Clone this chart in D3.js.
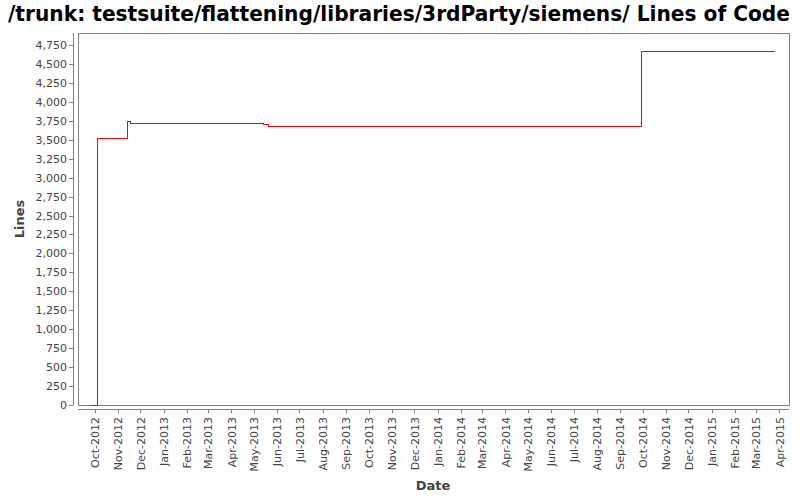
<!DOCTYPE html>
<html><head><meta charset="utf-8">
<script src="https://cdn.jsdelivr.net/npm/d3@7"></script>
<style>body{margin:0;background:#fff}svg{display:block}</style>
</head><body>
<svg id="c" width="800" height="500"></svg>
<script>
const title = "/trunk: testsuite/flattening/libraries/3rdParty/siemens/ Lines of Code";
const dates = ["2012-09-26","2012-10-05","2012-11-14","2012-11-18","2013-05-14","2013-05-21","2014-04-29","2014-09-30","2015-03-27"];
const values = [0,3510,3745,3720,3703,3681,3668,4667,4667];
const yTicks = [0,250,500,750,1000,1250,1500,1750,2000,2250,2500,2750,3000,3250,3500,3750,4000,4250,4500,4750];
const xTickMonths = d3.timeMonths(new Date(2012,9,1), new Date(2015,3,2));

const svg = d3.select("#c");
const L=78, R=789, T=33, B=405;
const parse = d3.timeParse("%Y-%m-%d");
const data = dates.map((d,i)=>({d:parse(d), v:values[i]}));
const x = d3.scaleTime().domain([new Date(2012,8,9), new Date(2015,3,14)]).range([L,R]);
const y = d3.scaleLinear().domain([0,4908]).range([B,T]);

svg.append("text").attr("x",399).attr("y",21).attr("text-anchor","middle")
  .attr("font-family","DejaVu Sans Condensed").attr("font-weight","bold").attr("font-size",22)
  .attr("textLength",782).attr("lengthAdjust","spacingAndGlyphs")
  .attr("fill","#000").text(title);

svg.append("rect").attr("x",L).attr("y",T).attr("width",R-L).attr("height",B-T)
  .attr("fill","#fff").attr("stroke","#808080").attr("stroke-width",1).attr("shape-rendering","crispEdges");

const yAxis = svg.append("g").attr("transform",`translate(${L-5},0)`)
  .call(d3.axisLeft(y).tickValues(yTicks).tickSize(4).tickPadding(2).tickFormat(d3.format(",")));
const xAxis = svg.append("g").attr("transform",`translate(0,${B+4})`)
  .call(d3.axisBottom(x).tickValues(xTickMonths).tickSize(4).tickPadding(2).tickFormat(d3.timeFormat("%b-%Y")));
[yAxis,xAxis].forEach(a=>{
  a.select(".domain").attr("stroke","#808080").attr("shape-rendering","crispEdges");
  a.selectAll(".tick line").attr("stroke","#808080").attr("shape-rendering","crispEdges");
  a.selectAll("text").attr("fill","#444").attr("font-family","DejaVu Sans").attr("font-size",11);
});
yAxis.select(".domain").attr("d",`M0,${T}V${B}`);
xAxis.select(".domain").attr("d",`M${L},0H${R}`);
xAxis.selectAll("text").attr("transform","rotate(-90)").attr("text-anchor","end")
  .attr("x",-8).attr("y",0).attr("dy","0.35em");

svg.append("path").datum(data)
  .attr("d", d3.line().x(d=>x(d.d)).y(d=>y(d.v)).curve(d3.curveStepAfter))
  .attr("fill","none").attr("stroke","#ff0000").attr("stroke-width",1).attr("shape-rendering","crispEdges");

svg.append("text").attr("transform","translate(24,219) rotate(-90)").attr("text-anchor","middle")
  .attr("font-family","DejaVu Sans").attr("font-weight","bold").attr("font-size",13).attr("fill","#444").text("Lines");
svg.append("text").attr("x",433).attr("y",490).attr("text-anchor","middle")
  .attr("font-family","DejaVu Sans").attr("font-weight","bold").attr("font-size",13).attr("fill","#444").text("Date");
</script>
</body></html>
